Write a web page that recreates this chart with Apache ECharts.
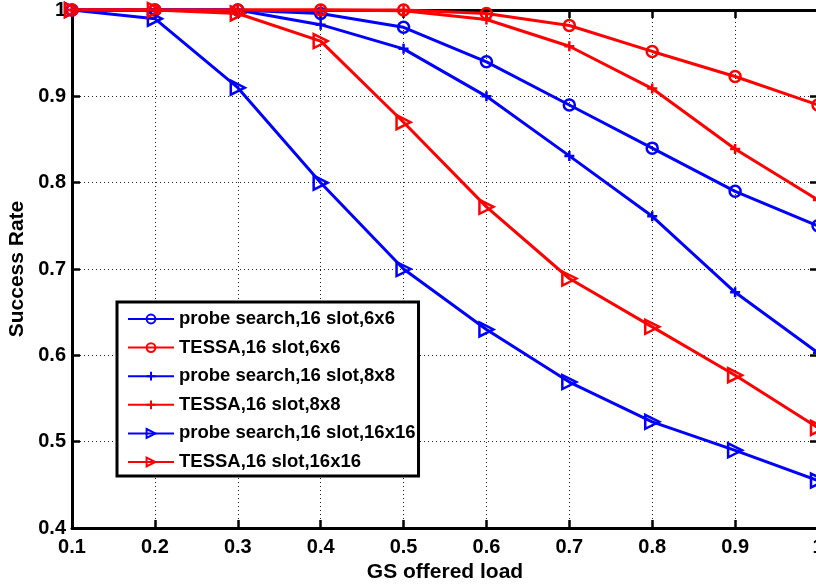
<!DOCTYPE html>
<html>
<head>
<meta charset="utf-8">
<script src="https://cdn.jsdelivr.net/npm/echarts@6/dist/echarts.min.js"></script>
<style>
html,body{margin:0;padding:0;background:#fff;}
#chart{width:816px;height:585px;}
</style>
</head>
<body>
<div id="chart"></div>
<script>
// ---- data ----
var loads = [0.1, 0.2, 0.3, 0.4, 0.5, 0.6, 0.7, 0.8, 0.9, 1.0];
var seriesNames = [
  'probe search,16 slot,6x6',
  'TESSA,16 slot,6x6',
  'probe search,16 slot,8x8',
  'TESSA,16 slot,8x8',
  'probe search,16 slot,16x16',
  'TESSA,16 slot,16x16'
];
var probe6x6   = [1.0, 1.0, 1.0, 0.996, 0.980, 0.940, 0.890, 0.840, 0.790, 0.750];
var tessa6x6   = [1.0, 1.0, 1.0, 1.0, 1.0, 0.996, 0.982, 0.952, 0.923, 0.890];
var probe8x8   = [1.0, 1.0, 1.0, 0.983, 0.955, 0.900, 0.831, 0.761, 0.673, 0.603];
var tessa8x8   = [1.0, 1.0, 1.0, 1.0, 0.999, 0.989, 0.958, 0.909, 0.839, 0.780];
var probe16x16 = [1.0, 0.990, 0.910, 0.800, 0.700, 0.630, 0.569, 0.523, 0.490, 0.455];
var tessa16x16 = [1.0, 1.0, 0.996, 0.964, 0.870, 0.772, 0.689, 0.633, 0.577, 0.516];
var xTicks = {min: 0.1, max: 1.0, interval: 0.1};
var yTicks = {min: 0.4, max: 1.0, interval: 0.1};

// ---- styling ----
var BLUE = '#0000ff', RED = '#ff0000';
var FONT = '"Liberation Sans", Arial, Helvetica, sans-serif';
var PLUS = 'path://M0,5 L10,5 M5,0 L5,10';
var TRI_RIGHT = 'path://M0,0 L10,5 L0,10 Z';

function pairs(vals){ return loads.map(function(x,i){ return [x, vals[i]]; }); }
function mk(name, vals, color, symbol, size){
  return {
    name: name, type: 'line', data: pairs(vals),
    symbol: symbol, symbolSize: size, showAllSymbol: true,
    clip: false, color: color,
    lineStyle: {color: color, width: 3},
    itemStyle: {color: 'rgba(0,0,0,0)', borderColor: color, borderWidth: 2.5},
    emphasis: {disabled: true},
    animation: false
  };
}

var axisLineStyle = {lineStyle: {color: '#000', width: 3}};
var tickStyle = {show: true, inside: true, length: 8, lineStyle: {color: '#000', width: 2.5}};
var gridLine = {show: true, lineStyle: {color: '#222', width: 1, type: [1, 3]}};
var labelStyle = {color: '#000', fontFamily: FONT, fontWeight: 'bold', fontSize: 20};
var nameStyle = {color: '#000', fontFamily: FONT, fontWeight: 'bold', fontSize: 21};

var chart = echarts.init(document.getElementById('chart'), null, {renderer: 'canvas'});
chart.setOption({
  backgroundColor: '#fff',
  animation: false,
  grid: {left: 72, right: -2, top: 10, bottom: 57, containLabel: false, outerBoundsMode: 'none'},
  xAxis: [{
    type: 'value', min: xTicks.min, max: xTicks.max, interval: xTicks.interval,
    position: 'bottom',
    name: 'GS offered load', nameLocation: 'middle', nameGap: 31, nameTextStyle: nameStyle,
    axisLine: axisLineStyle, axisTick: tickStyle,
    axisLabel: Object.assign({margin: 9, showMinLabel: true, showMaxLabel: true}, labelStyle),
    splitLine: gridLine
  }, {
    type: 'value', min: xTicks.min, max: xTicks.max, interval: xTicks.interval,
    position: 'top',
    axisLine: axisLineStyle, axisTick: tickStyle,
    axisLabel: {show: false}, splitLine: {show: false}
  }],
  yAxis: [{
    type: 'value', min: yTicks.min, max: yTicks.max, interval: yTicks.interval,
    position: 'left',
    name: 'Success Rate', nameLocation: 'middle', nameGap: 44, nameTextStyle: nameStyle,
    axisLine: axisLineStyle, axisTick: tickStyle,
    axisLabel: Object.assign({margin: 6, showMinLabel: true, showMaxLabel: true}, labelStyle),
    splitLine: gridLine
  }, {
    type: 'value', min: yTicks.min, max: yTicks.max, interval: yTicks.interval,
    position: 'right',
    axisLine: axisLineStyle, axisTick: tickStyle,
    axisLabel: {show: false}, splitLine: {show: false}
  }],
  legend: {
    orient: 'vertical', left: 117, top: 302,
    padding: [7, 3, 4, 10],
    itemWidth: 46, itemHeight: 11, itemGap: 8.6,
    backgroundColor: '#fff', borderColor: '#000', borderWidth: 3, borderRadius: 0,
    textStyle: {color: '#000', fontFamily: FONT, fontWeight: 'bold', fontSize: 18.5, lineHeight: 20},
    selectedMode: false,
    data: seriesNames
  },
  series: [
    mk(seriesNames[0], probe6x6, BLUE, 'circle', 11),
    mk(seriesNames[1], tessa6x6, RED, 'circle', 11),
    mk(seriesNames[2], probe8x8, BLUE, PLUS, 10),
    mk(seriesNames[3], tessa8x8, RED, PLUS, 10),
    mk(seriesNames[4], probe16x16, BLUE, TRI_RIGHT, 14),
    mk(seriesNames[5], tessa16x16, RED, TRI_RIGHT, 14)
  ]
});
</script>
</body>
</html>
